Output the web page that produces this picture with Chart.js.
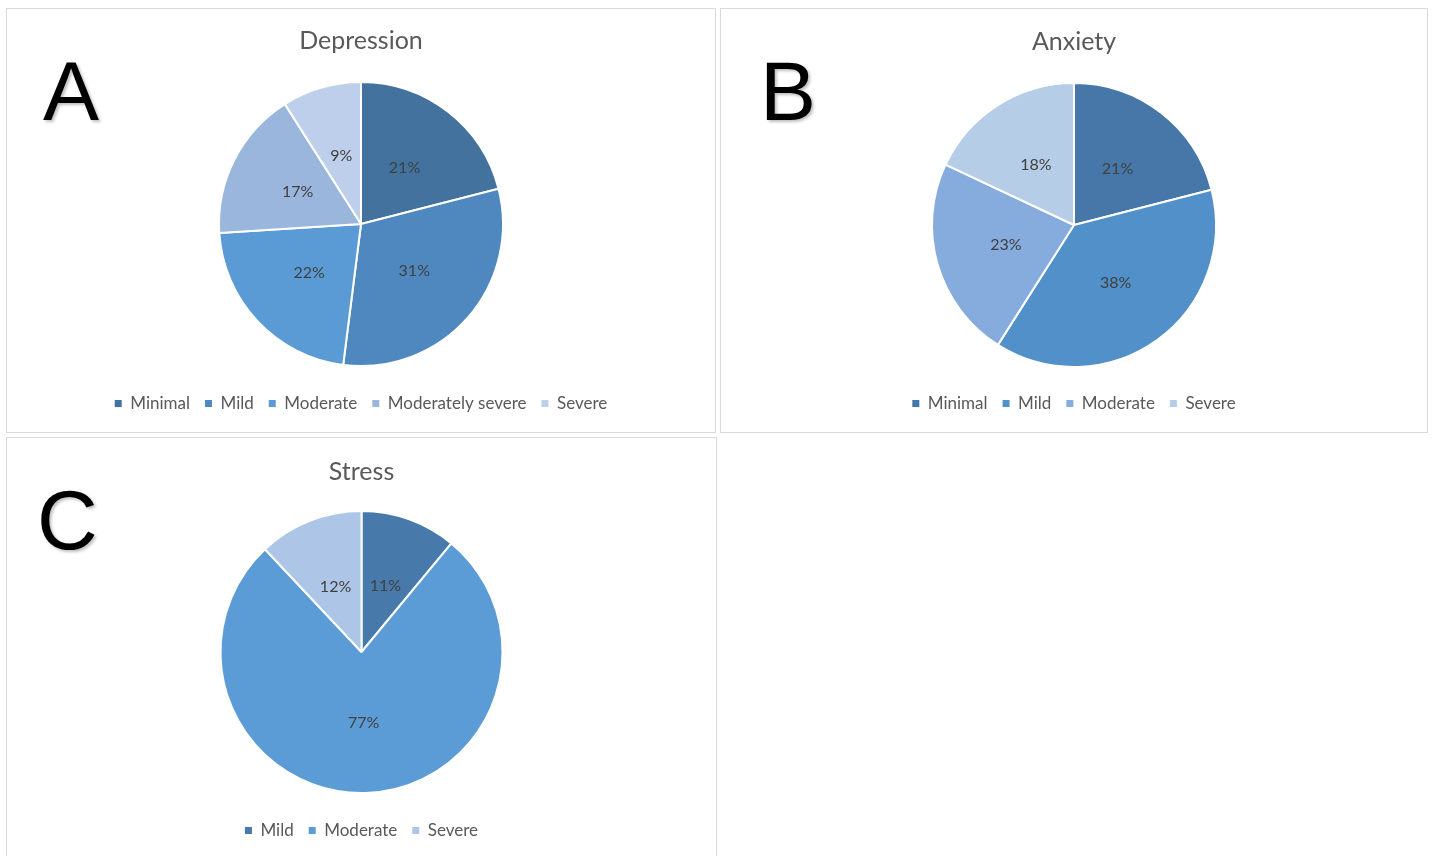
<!DOCTYPE html>
<html>
<head>
<meta charset="utf-8">
<script src="https://cdn.jsdelivr.net/npm/chart.js@4.4.1/dist/chart.umd.min.js"></script>
<style>
  html, body { margin: 0; padding: 0; background: #ffffff; overflow: hidden; }
  body { width: 1434px; height: 856px; position: relative; }
  .panel { position: absolute; border: 1px solid #d9d9d9; background: #fff; }
  .panel canvas { display: block; }
  .tag {
    position: absolute; font-family: "Liberation Sans", Arial, sans-serif;
    font-size: 84px; color: #000; line-height: 1;
    text-shadow: 2px 2px 3px rgba(0,0,0,0.25);
  }
</style>
</head>
<body>
<div class="panel" id="pA" style="left:6px; top:8px; width:708px; height:423px;"><canvas id="cA" width="708" height="423"></canvas></div>
<div class="panel" id="pB" style="left:720px; top:8px; width:706px; height:423px;"><canvas id="cB" width="706" height="423"></canvas></div>
<div class="panel" id="pC" style="left:6px; top:437px; width:709px; height:430px;"><canvas id="cC" width="709" height="430"></canvas></div>
<div class="tag" style="left:43px; top:49px;">A</div>
<div class="tag" style="left:760px; top:49px;">B</div>
<div class="tag" style="left:37px; top:478px;">C</div>
<script>
// Depression severity (percent of respondents)
const depressionLabels = ['Minimal', 'Mild', 'Moderate', 'Moderately severe', 'Severe'];
const depressionValues = [21, 31, 22, 17, 9];
const depressionColors = ['#43729F', '#4F87BF', '#5B9BD5', '#9AB6DD', '#BDCFEA'];

// Anxiety severity
const anxietyLabels = ['Minimal', 'Mild', 'Moderate', 'Severe'];
const anxietyValues = [21, 38, 23, 18];
const anxietyColors = ['#4677A8', '#5190C9', '#85ACDD', '#B6CDE8'];

// Stress severity
const stressLabels = ['Mild', 'Moderate', 'Severe'];
const stressValues = [11, 77, 12];
const stressColors = ['#4779AB', '#5B9CD6', '#ADC5E6'];

const FONT = 'Lato, "Open Sans", sans-serif';
const TITLE_SIZE = 25;
const LEGEND_SIZE = 17;
const LABEL_SIZE = 16;

// Percentage labels drawn at the middle of each slice
const sliceLabels = {
  id: 'sliceLabels',
  afterDatasetsDraw(chart) {
    const ctx = chart.ctx;
    const meta = chart.getDatasetMeta(0);
    const values = chart.data.datasets[0].data;
    ctx.save();
    ctx.font = LABEL_SIZE + 'px ' + FONT;
    ctx.fillStyle = '#404040';
    ctx.textAlign = 'center';
    ctx.textBaseline = 'middle';
    meta.data.forEach((arc, i) => {
      const p = arc.getCenterPoint();
      ctx.fillText(values[i] + '%', p.x, p.y);
    });
    ctx.restore();
  }
};

function buildPie(canvasId, title, labels, values, colors, g) {
  const canvas = document.getElementById(canvasId);
  const h = canvas.height;
  const titleH = TITLE_SIZE * 1.2;
  const titleTop = g.titleY - titleH / 2;
  const legendTop = g.legendY - 18;
  const legendH = 36;
  const areaTop = 2 * g.pieY - legendTop;
  return new Chart(canvas, {
    type: 'pie',
    data: {
      labels: labels,
      datasets: [{
        data: values,
        backgroundColor: colors,
        borderColor: '#ffffff',
        borderWidth: 2,
        radius: g.radius,
        hoverOffset: 0
      }]
    },
    options: {
      responsive: false,
      animation: false,
      devicePixelRatio: 1,
      layout: { padding: { top: 0, bottom: Math.max(0, h - legendTop - legendH), left: 0, right: 0 } },
      plugins: {
        title: {
          display: true,
          text: title,
          color: '#595959',
          font: { family: FONT, size: TITLE_SIZE, weight: 'normal' },
          padding: { top: titleTop, bottom: Math.max(0, areaTop - titleTop - titleH) }
        },
        legend: {
          position: 'bottom',
          labels: {
            color: '#595959',
            font: { family: FONT, size: LEGEND_SIZE },
            boxWidth: 7,
            boxHeight: 7,
            padding: 15,
            generateLabels(chart) {
              const base = Chart.overrides.pie.plugins.legend.labels.generateLabels(chart);
              return base.map(item => Object.assign(item, { lineWidth: 0, strokeStyle: 'rgba(0,0,0,0)' }));
            }
          }
        },
        tooltip: { enabled: false }
      }
    },
    plugins: [sliceLabels]
  });
}

buildPie('cA', 'Depression', depressionLabels, depressionValues, depressionColors,
  { titleY: 32, pieY: 218, legendY: 395, radius: 142 });
buildPie('cB', 'Anxiety', anxietyLabels, anxietyValues, anxietyColors,
  { titleY: 33, pieY: 219, legendY: 395, radius: 142 });
buildPie('cC', 'Stress', stressLabels, stressValues, stressColors,
  { titleY: 34, pieY: 217, legendY: 393, radius: 141 });
</script>
</body>
</html>
